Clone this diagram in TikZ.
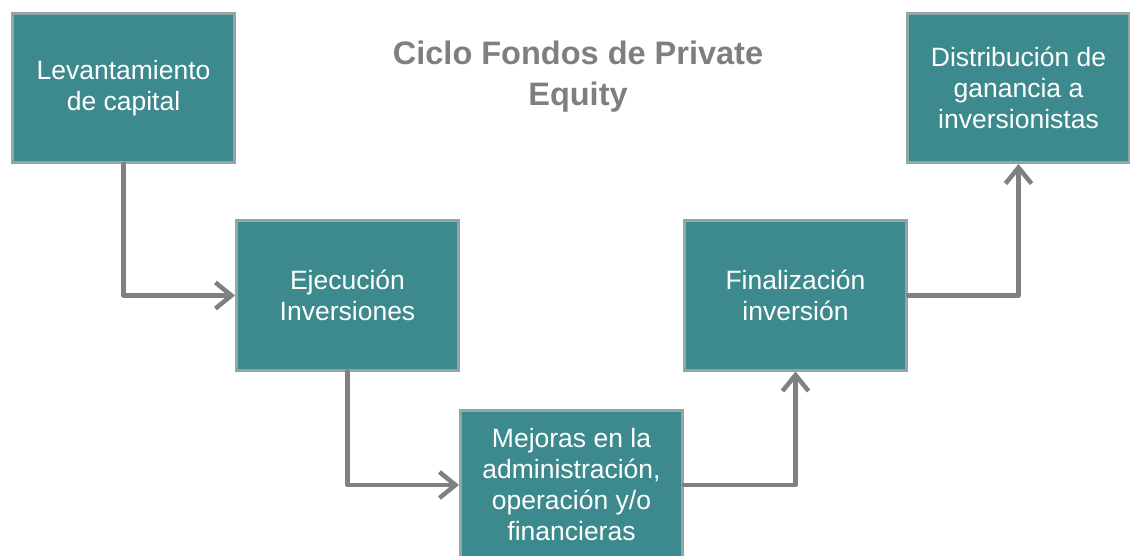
\documentclass[tikz,border=0pt]{standalone}
\usepackage{fontspec}
\setmainfont{Liberation Sans}
\usetikzlibrary{arrows.meta}
\definecolor{boxfill}{HTML}{3C8A8E}
\definecolor{boxline}{HTML}{8FA7A9}
\definecolor{conn}{HTML}{808080}
\definecolor{titlegray}{HTML}{7F7F7F}
\tikzset{
  stepbox/.style={draw=boxline, line width=3pt, fill=boxfill, text=white,
    minimum width=222pt, minimum height=149pt, inner sep=0pt, align=center,
    font=\fontsize{26.5}{31}\selectfont},
  conn/.style={draw=conn, line width=4.5pt, line join=round, line cap=round,
    -{Straight Barb[length=16pt,width=26pt,line width=4.5pt]}},
}
\begin{document}
\begin{tikzpicture}[x=1pt,y=-1pt]
\useasboundingbox (0,0) rectangle (1130,556);
\fill[white] (0,0) rectangle (1130,556);
\node[align=center, text=titlegray, font=\bfseries\fontsize{32.5}{41}\selectfont] (title) at (578,77) {Ciclo Fondos de Private\\Equity};
\node[stepbox] (b1) at (123.5,88) {Levantamiento\\de capital};
\node[stepbox] (b2) at (347.5,295.5) {Ejecución\\Inversiones};
\node[stepbox] (b3) at (571.5,485) {Mejoras en la\\administración,\\operación y/o\\financieras};
\node[stepbox] (b4) at (795.5,295.5) {Finalización\\inversión};
\node[stepbox] (b5) at (1018.5,88) {Distribución de\\ganancia a\\inversionistas};
\draw[conn] (b1.south) |- (b2.west);
\draw[conn] (b2.south) |- (b3.west);
\draw[conn] (b3.east) -| (b4.south);
\draw[conn] (b4.east) -| (b5.south);
\end{tikzpicture}
\end{document}
